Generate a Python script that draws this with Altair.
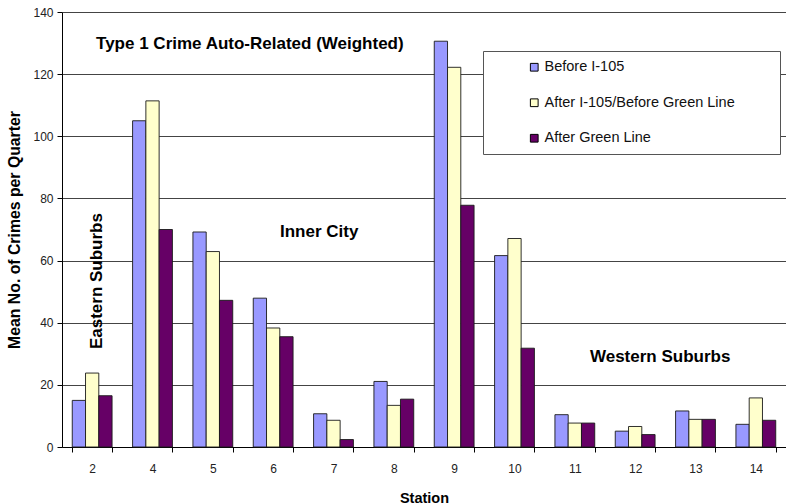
import altair as alt
import pandas as pd

stations = ["2", "4", "5", "6", "7", "8", "9", "10", "11", "12", "13", "14"]
series_names = ["Before I-105", "After I-105/Before Green Line", "After Green Line"]
before_i105 = [15.0, 105.0, 69.2, 47.9, 10.7, 21.1, 130.6, 61.6, 10.4, 5.1, 11.6, 7.3]
after_i105 = [23.8, 111.4, 62.9, 38.3, 8.6, 13.4, 122.2, 67.1, 7.7, 6.6, 8.9, 15.8]
after_green = [16.5, 70.0, 47.2, 35.5, 2.4, 15.4, 77.8, 31.8, 7.7, 4.0, 8.9, 8.6]
colors = ["#9999FF", "#FFFFCC", "#660066"]

rows = []
for name, vals in zip(series_names, [before_i105, after_i105, after_green]):
    for s, v in zip(stations, vals):
        rows.append({"Station": s, "Period": name, "Value": v})
df = pd.DataFrame(rows)

FONT = "Liberation Sans"

x_enc = alt.X(
    "Station:N",
    sort=stations,
    scale=alt.Scale(paddingInner=0.34, paddingOuter=0.17),
    axis=alt.Axis(
        title="Station", labelAngle=0, tickBand="extent", labelPadding=11,
        titlePadding=17, ticks=True, tickSize=5, domainColor="black",
        tickColor="black", labelColor="#222", labelFontSize=12,
        titleFontSize=14.5, titleFontWeight="bold", grid=False,
    ),
)

bars = alt.Chart(df).mark_bar(stroke="#1a1a1a", strokeWidth=0.9).encode(
    x=x_enc,
    xOffset=alt.XOffset("Period:N", sort=series_names),
    y=alt.Y(
        "Value:Q",
        scale=alt.Scale(domain=[0, 140], nice=False),
        axis=alt.Axis(
            title="Mean No. of Crimes per Quarter", values=list(range(0, 141, 20)),
            tickSize=5, tickColor="black", domainColor="black", gridColor="#444",
            gridWidth=1, labelColor="#222", labelFontSize=12, labelPadding=4,
            titleFontSize=15.8, titleFontWeight="bold", titlePadding=10,
        ),
    ),
    color=alt.Color(
        "Period:N",
        sort=series_names,
        scale=alt.Scale(domain=series_names, range=colors),
        legend=alt.Legend(
            title=" ", titleOrient="right", titlePadding=36,
            orient="none", legendX=421, legendY=39,
            fillColor="white", strokeColor="#555", padding=9,
            symbolType="square", symbolSize=60, symbolStrokeColor="black",
            symbolStrokeWidth=1, symbolOffset=35, labelFontSize=14.5,
            labelColor="#111", rowPadding=20.5, labelOffset=3, labelLimit=400,
        ),
    ),
)

ann_text = ["Type 1 Crime Auto-Related (Weighted)", "Inner City", "Western Suburbs"]
ann_station = ["5", "6", "12"]
ann_value = [129.7, 69.1, 28.9]
ann_dx = [37, 46, 25]

layers = [bars]
for t, s, v, d in zip(ann_text, ann_station, ann_value, ann_dx):
    layers.append(
        alt.Chart(pd.DataFrame({"Station": [s], "Value": [v], "Label": [t]}))
        .mark_text(font=FONT, fontSize=17, fontWeight="bold", color="black",
                   align="center", baseline="middle", dx=d)
        .encode(x=alt.X("Station:N", sort=stations), y="Value:Q", text="Label:N")
    )

layers.append(
    alt.Chart(pd.DataFrame({"Station": ["2"], "Value": [53.4], "Label": ["Eastern Suburbs"]}))
    .mark_text(font=FONT, fontSize=17, fontWeight="bold", color="black",
               align="center", baseline="middle", angle=270, dy=5)
    .encode(x=alt.X("Station:N", sort=stations), y="Value:Q", text="Label:N")
)

chart = alt.layer(*layers).properties(
    width=724, height=435,
    autosize=alt.AutoSizeParams(type="none"),
    padding={"left": 62, "top": 12, "right": 0, "bottom": 57},
).configure(font=FONT).configure_view(stroke=None).configure_axis(
    labelFont=FONT, titleFont=FONT
).configure_legend(labelFont=FONT, titleFont=FONT)

chart.save("out.html", embed_options={"renderer": "svg", "actions": False})
